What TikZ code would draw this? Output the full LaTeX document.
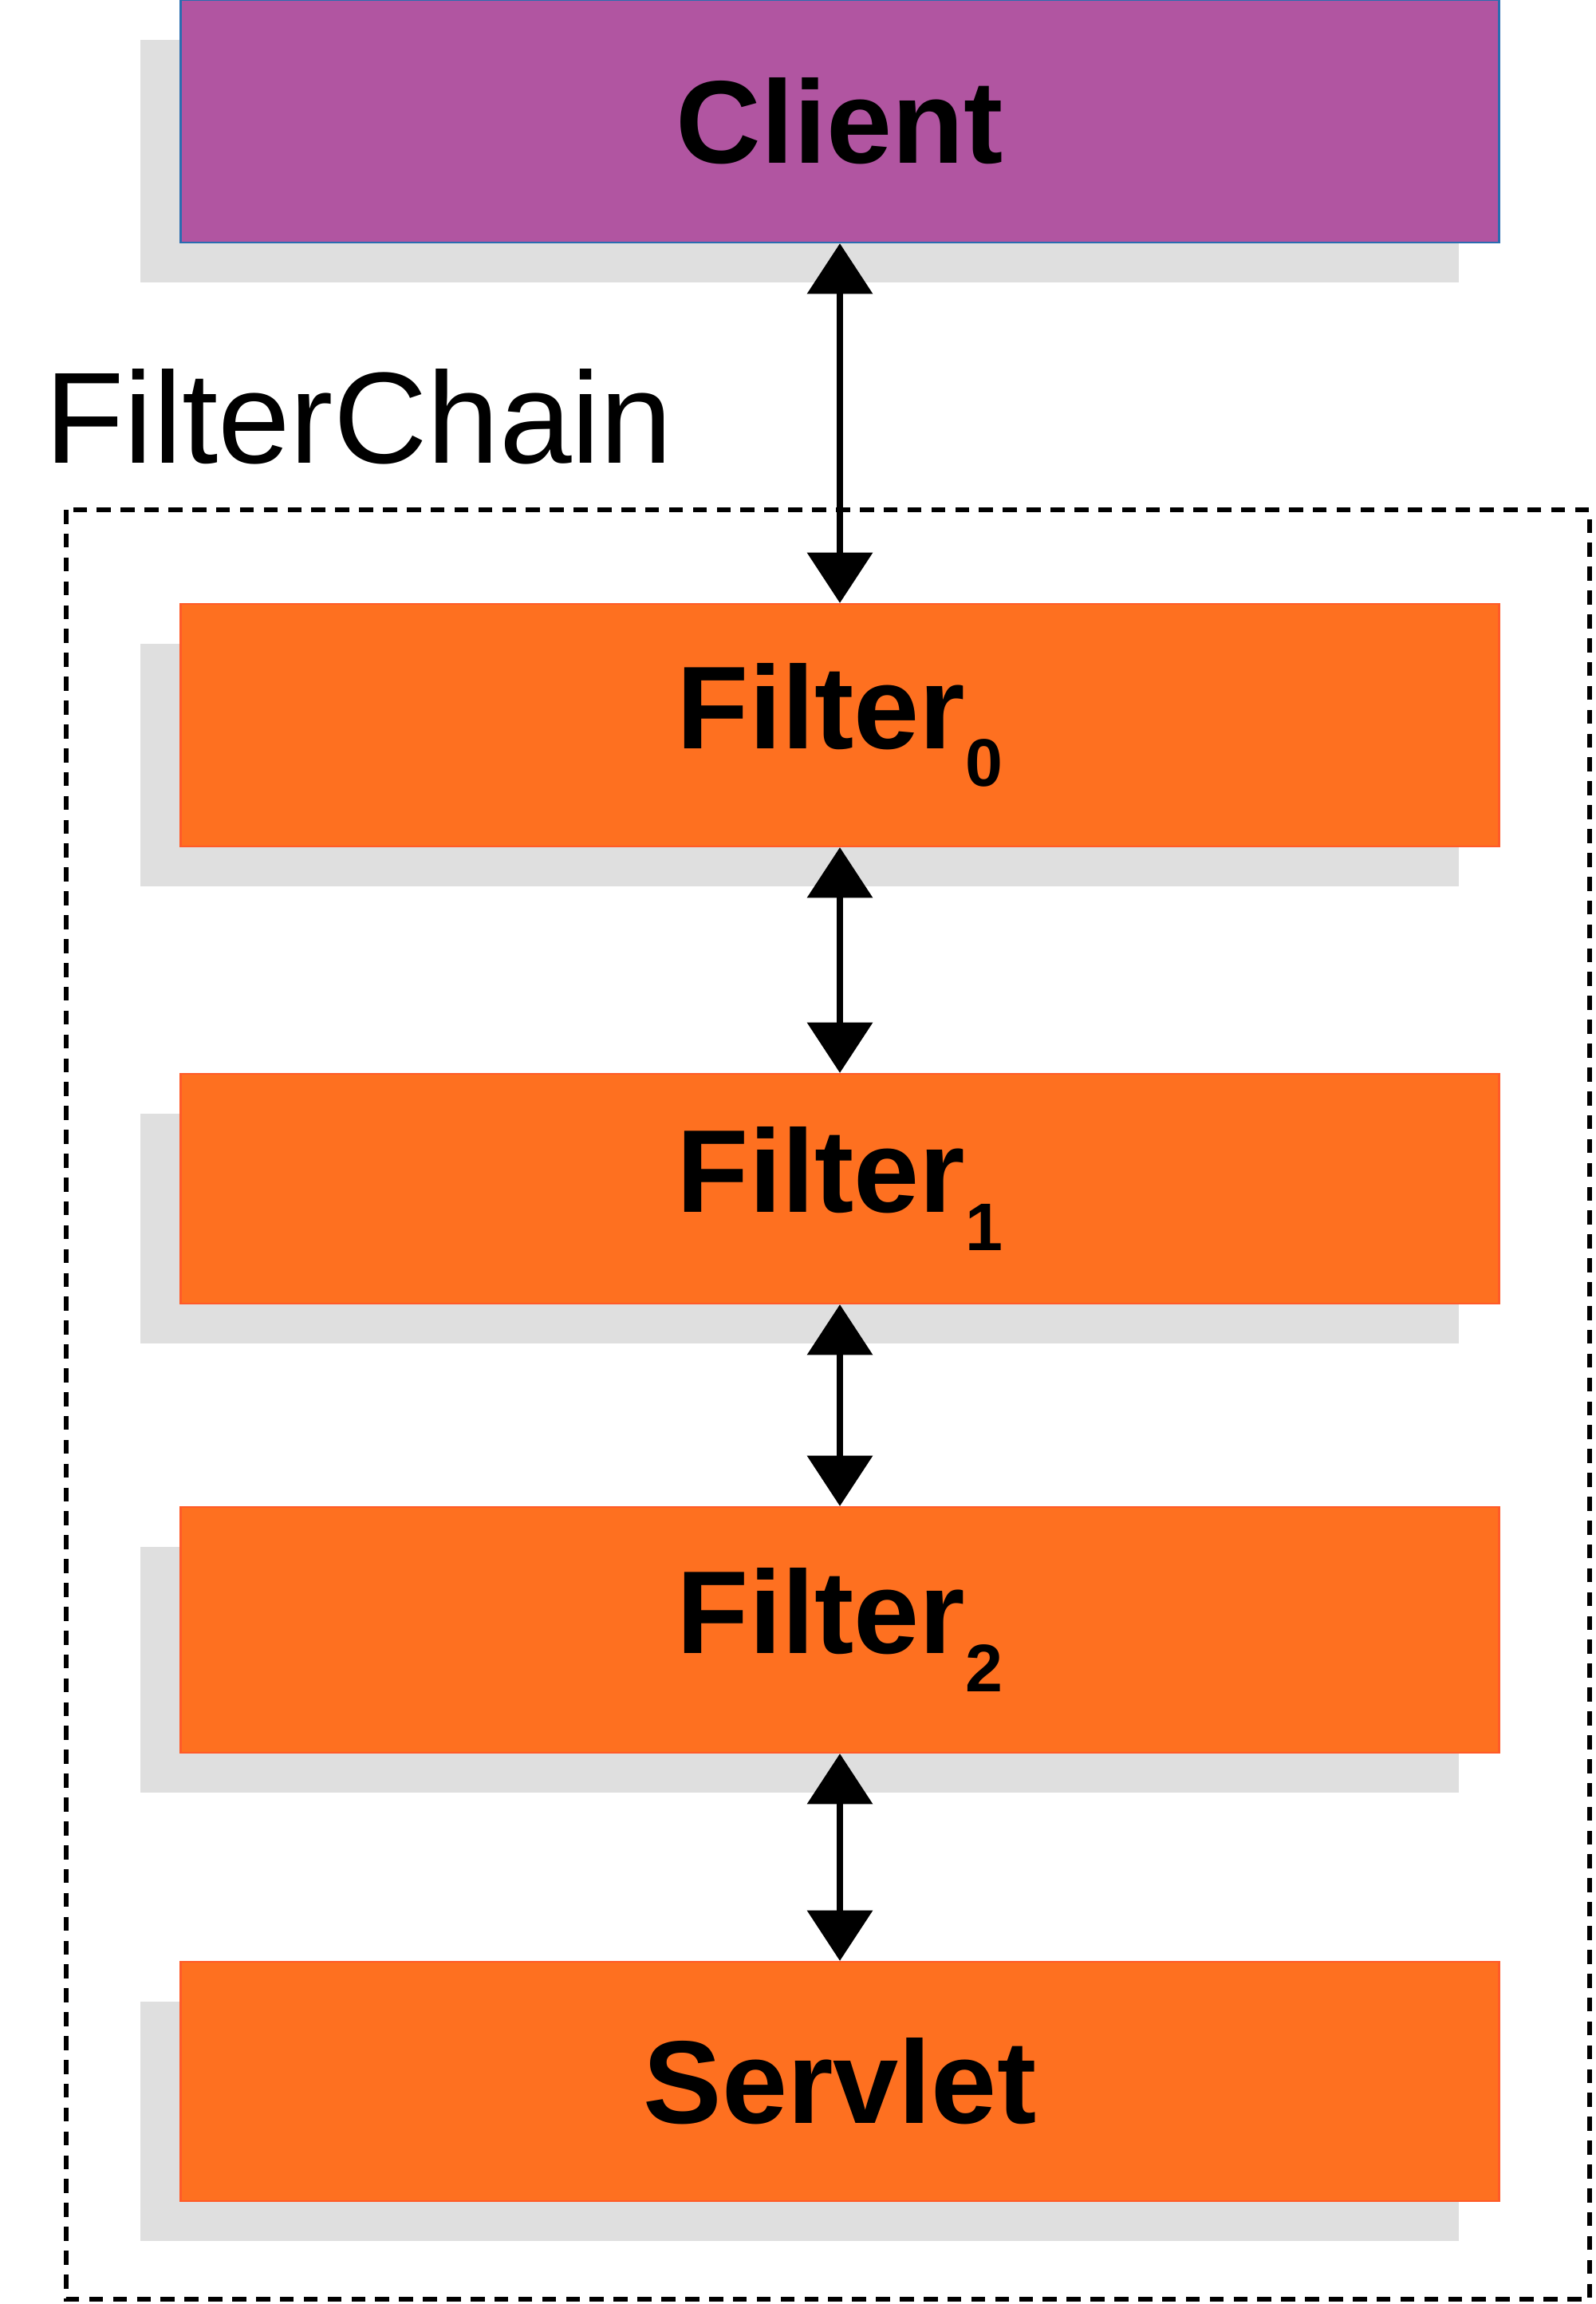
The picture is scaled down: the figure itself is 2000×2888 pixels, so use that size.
\documentclass[tikz,border=0pt]{standalone}
\usepackage{fontspec}
\setmainfont{Liberation Sans}
\usetikzlibrary{arrows.meta,shadows}
\definecolor{clientfill}{HTML}{B155A1}
\definecolor{clientdraw}{HTML}{2A6DB0}
\definecolor{orangefill}{HTML}{FE7020}
\definecolor{orangedraw}{HTML}{FF5A28}
\definecolor{shadowgray}{HTML}{DFDFDF}
\tikzset{
  box/.style={rectangle, minimum width=16.52cm, inner sep=0pt,
    font=\fontsize{42}{42}\selectfont\bfseries, line width=0.6pt,
    general shadow={shadow xshift=-0.5cm, shadow yshift=-0.5cm, fill=shadowgray}},
  clientbox/.style={box, fill=clientfill, draw=clientdraw},
  filterbox/.style={box, fill=orangefill, draw=orangedraw},
  link/.style={line width=2.2pt, {Triangle[length=18pt,width=23pt]}-{Triangle[length=18pt,width=23pt]}},
  chain/.style={line width=1.8pt, dash pattern=on 5pt off 3.5pt}
}
\newcommand{\fsub}[1]{\raisebox{-0.32em}{\fontsize{24}{24}\selectfont #1}}
\begin{document}
\begin{tikzpicture}[x=0.01cm,y=-0.01cm]
\useasboundingbox (0,0) rectangle (2000,2888);
\draw[chain] (83,639) rectangle (1993,2882);
\node[anchor=base west, font=\fontsize{46.3}{46}\selectfont] (fc) at (44,580) {FilterChain};
\node[clientbox, minimum height=3.04cm] (client) at (1053,152) {Client};
\node[filterbox, minimum height=3.04cm] (f0) at (1053,909) {Filter\fsub{0}};
\node[filterbox, minimum height=2.88cm] (f1) at (1053,1490) {Filter\fsub{1}};
\node[filterbox, minimum height=3.08cm] (f2) at (1053,2043) {Filter\fsub{2}};
\node[filterbox, minimum height=3.00cm] (servlet) at (1053,2609) {Servlet};
\draw[link] (client) -- (f0);
\draw[link] (f0) -- (f1);
\draw[link] (f1) -- (f2);
\draw[link] (f2) -- (servlet);
\end{tikzpicture}
\end{document}
